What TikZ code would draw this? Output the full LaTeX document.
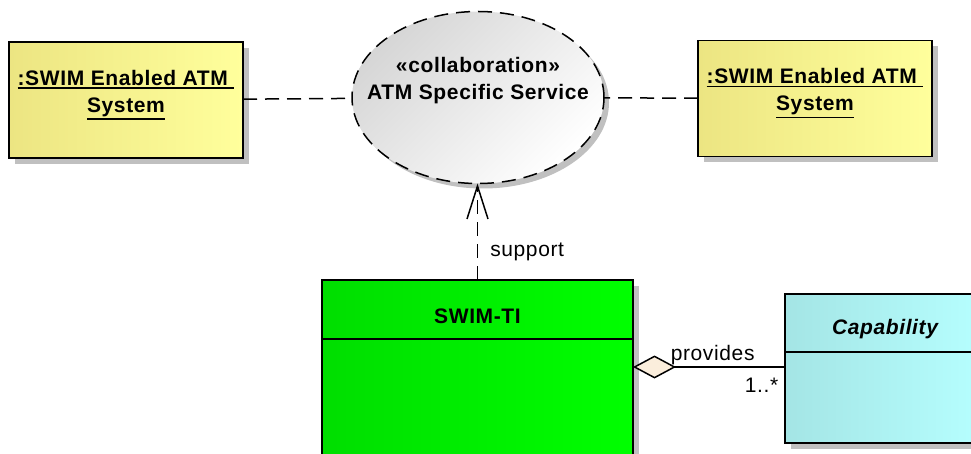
\documentclass[tikz,border=0pt]{standalone}
\usepackage{fontspec}
\setmainfont{Liberation Sans}[LetterSpace=3]
\usepackage{xcolor}
\usepackage{tikz}
\usetikzlibrary{arrows.meta,positioning,shapes.geometric,shadows}
\definecolor{ink}{HTML}{000000}
\definecolor{yellowl}{HTML}{ECE582}
\definecolor{yellowr}{HTML}{FFFF9C}
\definecolor{greenl}{HTML}{00DE00}
\definecolor{greenr}{HTML}{00FF00}
\definecolor{cyanl}{HTML}{A4E5E5}
\definecolor{cyanr}{HTML}{B6FFFF}
\definecolor{grayl}{HTML}{D6D6D6}
\definecolor{shadowgray}{HTML}{C0C0C0}
\definecolor{diamondfill}{HTML}{FBEEDC}
\newcommand{\uln}[1]{\leavevmode\vtop{\hbox{#1}\kern1.5pt\hrule height 1.6pt}}
\tikzset{
  objbox/.style={
    draw=ink,line width=1.5pt,left color=yellowl,right color=yellowr,
    minimum width=234pt,minimum height=116pt,inner sep=0pt,outer sep=0pt,
    general shadow={fill=shadowgray,shadow xshift=6pt,shadow yshift=-6pt}
  },
  collabbox/.style={
    ellipse,draw=ink,line width=1.5pt,dash pattern=on 14pt off 8pt,
    top color=grayl,bottom color=white,shading angle=45,
    minimum width=252pt,minimum height=172pt,inner sep=0pt,outer sep=0pt,
    general shadow={fill=shadowgray,shadow xshift=5pt,shadow yshift=-5pt}
  },
  tibox/.style={
    draw=ink,line width=1.5pt,left color=greenl,right color=greenr,
    minimum width=311pt,inner sep=0pt,outer sep=0pt,
    general shadow={fill=shadowgray,shadow xshift=6pt,shadow yshift=-6pt}
  },
  capbox/.style={
    draw=ink,line width=1.5pt,left color=cyanl,right color=cyanr,
    minimum width=200pt,inner sep=0pt,outer sep=0pt,
    general shadow={fill=shadowgray,shadow xshift=6pt,shadow yshift=-6pt}
  },
  boldtext/.style={inner sep=0pt,align=center,font=\fontsize{21}{27}\selectfont\bfseries},
  lbl/.style={inner sep=0pt,font=\fontsize{21}{27}\selectfont},
  link/.style={draw=ink,line width=1.5pt,dash pattern=on 14pt off 8pt},
  dependency/.style={-{Straight Barb[length=33pt,width=21pt]},draw=ink,line width=1.5pt,
    dash pattern=on 14pt off 8pt},
  aggregation/.style={{Diamond[length=43pt,width=23pt,fill=diamondfill]}-,draw=ink,line width=1.5pt}
}
\begin{document}
\begin{tikzpicture}[x=1pt,y=1pt]
\clip (0,0) rectangle (971,-454);

% collaboration and its parts
\node[collabbox] (collab) at (478,-97.5) {};
\node[boldtext,below=46pt of collab.north] (collabtxt)
{«collaboration»\\ATM Specific Service};

\node[objbox] (sysl) at (126,-100) {};
\node[boldtext,below=28pt of sysl.north] (sysltxt)
{\uln{:SWIM Enabled ATM\ }\\\uln{System}};

\node[objbox] (sysr) at (815,-98.5) {};
\node[boldtext,below=28pt of sysr.north] (sysrtxt)
{\uln{:SWIM Enabled ATM\ }\\\uln{System}};

\draw[link] (sysl) -- (collab);
\draw[link] (sysr) -- (collab);

% classes
\node[tibox,minimum height=59pt] (tihead) at (477.5,-309.5) {};
\node[tibox,minimum height=150pt,below=0pt of tihead] (tibody) {};
\node[boldtext,above=16pt of tihead.south,anchor=base] (tiname) {SWIM-TI};

\node[capbox,minimum height=58pt] (caphead) at (885,-323) {};
\node[capbox,minimum height=91pt,below=0pt of caphead] (capbody) {};
\node[boldtext,above=18pt of caphead.south,anchor=base] (capname) {\itshape Capability};

\draw[dependency] (tihead.north) -- (tihead.north |- collab.south)
  node[lbl,pos=0.24,anchor=base west,xshift=12pt] (suplbl) {support};

\coordinate (aggy) at (700,-367);
\draw[aggregation] (tibody.east |- aggy) -- (capbody.west |- aggy)
  node[lbl,pos=0,anchor=base west,xshift=37pt,yshift=7pt] (provlbl) {provides}
  node[lbl,pos=1,anchor=base east,xshift=-6pt,yshift=-25pt] (multlbl) {1..*};
\end{tikzpicture}
\end{document}
